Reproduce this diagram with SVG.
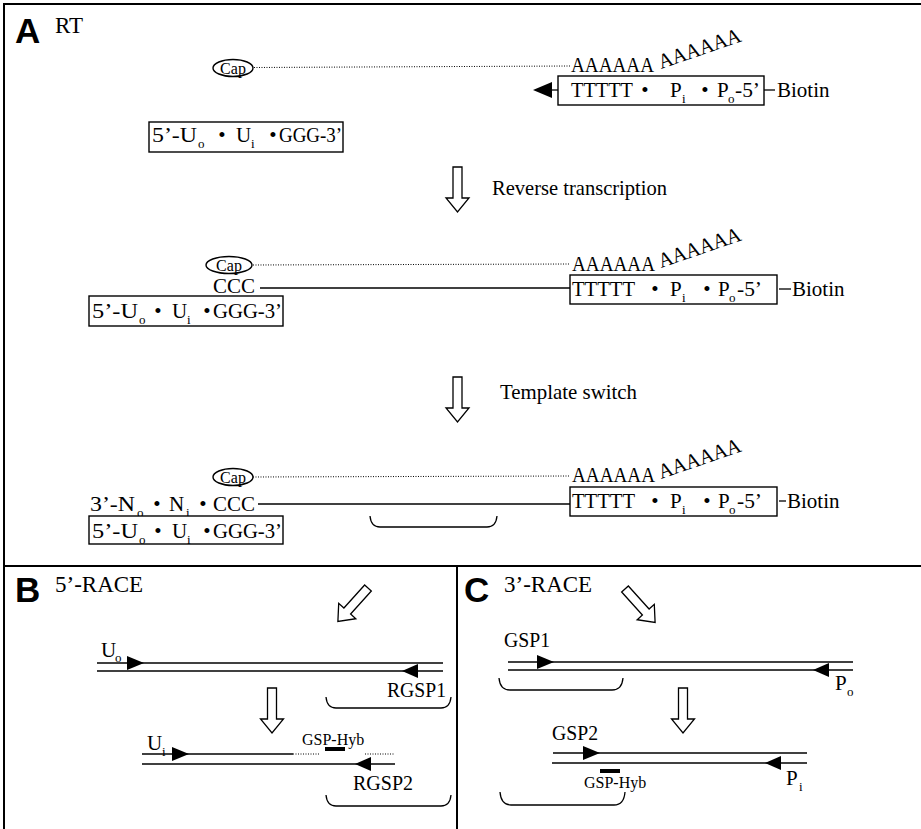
<svg xmlns="http://www.w3.org/2000/svg" xmlns:xlink="http://www.w3.org/1999/xlink" width="921" height="829" viewBox="0 0 921 829">
<style>
text{font-family:"Liberation Serif","Times New Roman",serif;font-size:21px;fill:#000}
.lbl{font-family:"Liberation Sans",Arial,sans-serif;font-weight:bold;font-size:35px}
.ttl{font-size:23px}
.sub{font-size:13px}
.cap{font-size:16px}
.hyb{font-size:16px}
.mid{text-anchor:middle}
.box{fill:#fff;stroke:#000;stroke-width:1.4}
.ln{stroke:#000;stroke-width:1.3;fill:none}
.dot{stroke:#000;stroke-width:1;stroke-dasharray:1 1.5;fill:none}
.frame{stroke:#000;stroke-width:2;fill:none}
.brk{stroke:#000;stroke-width:1.3;fill:none}
.tri{fill:#000}
.big{fill:#fff;stroke:#000;stroke-width:1.3}
</style>
<defs>
<path id="bigarrow" class="big" d="M -4.5 0 L 4.5 0 L 4.5 31 L 11.5 31 L 0 45 L -11.5 31 L -4.5 31 Z"/>
</defs>

<g id="frame">
<line class="frame" x1="3" y1="4" x2="921" y2="4"/>
<line class="frame" x1="4" y1="3" x2="4" y2="829"/>
<line class="frame" x1="4" y1="566" x2="921" y2="566" stroke-width="1.6"/>
<line class="frame" x1="457" y1="566" x2="457" y2="829" stroke-width="1.6"/>
</g>

<g id="panel-labels">
<text class="lbl" x="15" y="43">A</text>
<text class="ttl" x="55" y="33">RT</text>
<text class="lbl" x="15" y="602">B</text>
<text class="ttl" x="55" y="592">5’-RACE</text>
<text class="lbl" x="464" y="602">C</text>
<text class="ttl" x="504" y="592">3’-RACE</text>
</g>

<g id="connectors">
<!-- row 1 -->
<line class="dot" x1="254" y1="67.5" x2="570" y2="66"/>
<line class="ln" x1="551" y1="90" x2="558" y2="90"/>
<polygon class="tri" points="533,90 552,82 552,98"/>
<line class="ln" x1="764" y1="90" x2="775" y2="90"/>
<!-- row 2 -->
<line class="dot" x1="253" y1="265" x2="570" y2="264"/>
<line class="ln" x1="260" y1="288" x2="570" y2="288"/>
<line class="ln" x1="779" y1="289" x2="791" y2="289"/>
<!-- row 3 -->
<line class="dot" x1="253" y1="477" x2="570" y2="476"/>
<line class="ln" x1="258" y1="504" x2="570" y2="504"/>
<line class="ln" x1="779" y1="501" x2="786" y2="501"/>
<!-- step arrows -->
<use xlink:href="#bigarrow" href="#bigarrow" transform="translate(457.5,167)"/>
<use xlink:href="#bigarrow" href="#bigarrow" transform="translate(457.5,377)"/>
<use xlink:href="#bigarrow" href="#bigarrow" transform="translate(368,588) rotate(42)"/>
<use xlink:href="#bigarrow" href="#bigarrow" transform="translate(625,589) rotate(-42)"/>
<use xlink:href="#bigarrow" href="#bigarrow" transform="translate(272,688)"/>
<use xlink:href="#bigarrow" href="#bigarrow" transform="translate(683,688)"/>
<!-- brackets -->
<path class="brk" d="M 370 516 Q 371 527 380 527 L 487 527 Q 496 527 497 516"/>
<path class="brk" d="M 326 697 Q 327 708 336 708 L 441 708 Q 450 708 451 697"/>
<path class="brk" d="M 326 795 Q 327 806 336 806 L 441 806 Q 450 806 451 795"/>
<path class="brk" d="M 499 678 Q 500 690 510 690 L 612 690 Q 622 690 623 678"/>
<path class="brk" d="M 500 792 Q 501 805 511 805 L 614 805 Q 624 805 625 792"/>
</g>

<g id="mrna-row1">
<ellipse class="box" cx="233" cy="68" rx="20" ry="8.5" stroke-width="1.2"/>
<text class="cap mid" x="233" y="73.5">Cap</text>
<text x="571" y="72" textLength="83" lengthAdjust="spacingAndGlyphs">AAAAAA</text>
<text x="661" y="69" transform="rotate(-19 661 69)" textLength="86" lengthAdjust="spacingAndGlyphs">AAAAAA</text>
</g>

<g id="primer-row1">
<rect class="box" x="558" y="76" width="206" height="29"/>
<text x="571" y="97" textLength="62" lengthAdjust="spacingAndGlyphs">TTTTT</text>
<text class="mid" x="645" y="97">•</text>
<text x="670" y="97">P</text><text class="sub" x="682" y="103">i</text>
<text class="mid" x="705" y="97">•</text>
<text x="717" y="97">P</text><text class="sub" x="728" y="103">o</text>
<text x="735" y="97" textLength="25" lengthAdjust="spacingAndGlyphs">-5’</text>
<text x="777" y="97">Biotin</text>
</g>

<g id="oligo-row1">
<rect class="box" x="149" y="122" width="194" height="30"/>
<text x="152" y="142" textLength="45" lengthAdjust="spacingAndGlyphs">5’-U</text><text class="sub" x="198" y="148">o</text>
<text class="mid" x="222" y="142">•</text>
<text x="236" y="142">U</text><text class="sub" x="251" y="148">i</text>
<text class="mid" x="273" y="142">•</text>
<text x="279" y="142" textLength="63" lengthAdjust="spacingAndGlyphs">GGG-3’</text>
</g>

<g id="step-labels">
<text x="492" y="195" font-size="20" textLength="175" lengthAdjust="spacingAndGlyphs">Reverse transcription</text>
<text x="500" y="399" font-size="20" textLength="137" lengthAdjust="spacingAndGlyphs">Template switch</text>
</g>

<g id="mrna-row2">
<ellipse class="box" cx="229" cy="265" rx="23" ry="8.5" stroke-width="1.2"/>
<text class="cap mid" x="229" y="270.5">Cap</text>
<text x="572" y="271" textLength="83" lengthAdjust="spacingAndGlyphs">AAAAAA</text>
<text x="661" y="268" transform="rotate(-19 661 268)" textLength="86" lengthAdjust="spacingAndGlyphs">AAAAAA</text>
<text x="213" y="293" textLength="42" lengthAdjust="spacingAndGlyphs">CCC</text>
</g>

<g id="primer-row2">
<rect class="box" x="570" y="275" width="207" height="29"/>
<text x="572" y="296" textLength="63" lengthAdjust="spacingAndGlyphs">TTTTT</text>
<text class="mid" x="655" y="296">•</text>
<text x="670" y="296">P</text><text class="sub" x="682" y="302">i</text>
<text class="mid" x="707" y="296">•</text>
<text x="718" y="296">P</text><text class="sub" x="729" y="302">o</text>
<text x="737" y="296" textLength="25" lengthAdjust="spacingAndGlyphs">-5’</text>
<text x="792" y="296">Biotin</text>
</g>

<g id="oligo-row2">
<rect class="box" x="89" y="296" width="194" height="30"/>
<text x="92" y="318" textLength="46" lengthAdjust="spacingAndGlyphs">5’-U</text><text class="sub" x="139" y="324">o</text>
<text class="mid" x="158" y="318">•</text>
<text x="172" y="318">U</text><text class="sub" x="187" y="324">i</text>
<text class="mid" x="207" y="318">•</text>
<text x="213" y="318" textLength="69" lengthAdjust="spacingAndGlyphs">GGG-3’</text>
</g>

<g id="mrna-row3">
<ellipse class="box" cx="233" cy="477" rx="20" ry="8.5" stroke-width="1.2"/>
<text class="cap mid" x="233" y="482.5">Cap</text>
<text x="572" y="482" textLength="83" lengthAdjust="spacingAndGlyphs">AAAAAA</text>
<text x="661" y="479" transform="rotate(-19 661 479)" textLength="86" lengthAdjust="spacingAndGlyphs">AAAAAA</text>
</g>

<g id="cdna-row3">
<text x="90" y="511" textLength="45" lengthAdjust="spacingAndGlyphs">3’-N</text><text class="sub" x="137" y="517">o</text>
<text class="mid" x="157" y="511">•</text>
<text x="169" y="511">N</text><text class="sub" x="186" y="517">i</text>
<text class="mid" x="203" y="511">•</text>
<text x="213" y="511" textLength="42" lengthAdjust="spacingAndGlyphs">CCC</text>
</g>

<g id="primer-row3">
<rect class="box" x="570" y="487" width="207" height="29"/>
<text x="572" y="508" textLength="63" lengthAdjust="spacingAndGlyphs">TTTTT</text>
<text class="mid" x="655" y="508">•</text>
<text x="670" y="508">P</text><text class="sub" x="682" y="514">i</text>
<text class="mid" x="707" y="508">•</text>
<text x="718" y="508">P</text><text class="sub" x="729" y="514">o</text>
<text x="737" y="508" textLength="25" lengthAdjust="spacingAndGlyphs">-5’</text>
<text x="787" y="508">Biotin</text>
</g>

<g id="oligo-row3">
<rect class="box" x="89" y="516" width="194" height="28"/>
<text x="92" y="538" textLength="46" lengthAdjust="spacingAndGlyphs">5’-U</text><text class="sub" x="139" y="544">o</text>
<text class="mid" x="158" y="538">•</text>
<text x="172" y="538">U</text><text class="sub" x="187" y="544">i</text>
<text class="mid" x="207" y="538">•</text>
<text x="213" y="538" textLength="69" lengthAdjust="spacingAndGlyphs">GGG-3’</text>
</g>

<g id="b-pcr1">
<line class="ln" x1="97" y1="663" x2="443" y2="663"/>
<line class="ln" x1="97" y1="671" x2="443" y2="671"/>
<polygon class="tri" points="127,656 144,663 127,670"/>
<polygon class="tri" points="402,671 418,664 418,678"/>
<text x="101" y="657">U</text><text class="sub" x="115" y="662">o</text>
<text x="387" y="697" textLength="59" lengthAdjust="spacingAndGlyphs">RGSP1</text>
</g>

<g id="b-pcr2">
<line class="ln" x1="142" y1="754" x2="293" y2="754"/>
<line class="dot" x1="293" y1="754" x2="320" y2="754"/>
<line class="dot" x1="365" y1="754" x2="395" y2="754"/>
<line class="ln" x1="142" y1="764" x2="395" y2="764"/>
<polygon class="tri" points="172,747 189,754 172,761"/>
<polygon class="tri" points="355,764 371,757 371,771"/>
<rect class="tri" x="325" y="747" width="20" height="4"/>
<text class="hyb" x="302" y="745">GSP-Hyb</text>
<text x="147" y="750">U</text><text class="sub" x="162" y="756">i</text>
<text x="353" y="790" textLength="60" lengthAdjust="spacingAndGlyphs">RGSP2</text>
</g>

<g id="c-pcr1">
<line class="ln" x1="508" y1="662" x2="853" y2="662"/>
<line class="ln" x1="508" y1="670" x2="853" y2="670"/>
<polygon class="tri" points="537,655 554,662 537,669"/>
<polygon class="tri" points="813,670 829,663 829,677"/>
<text x="504" y="647" textLength="46" lengthAdjust="spacingAndGlyphs">GSP1</text>
<text x="835" y="690">P</text><text class="sub" x="847" y="696">o</text>
</g>

<g id="c-pcr2">
<line class="ln" x1="553" y1="753" x2="807" y2="753"/>
<line class="ln" x1="552" y1="763" x2="807" y2="763"/>
<polygon class="tri" points="583,746 600,753 583,760"/>
<polygon class="tri" points="765,763 781,756 781,770"/>
<rect class="tri" x="600" y="769" width="20" height="4"/>
<text class="hyb" x="584" y="788">GSP-Hyb</text>
<text x="552" y="740" textLength="46" lengthAdjust="spacingAndGlyphs">GSP2</text>
<text x="786" y="785">P</text><text class="sub" x="799" y="791">i</text>
</g>
</svg>
